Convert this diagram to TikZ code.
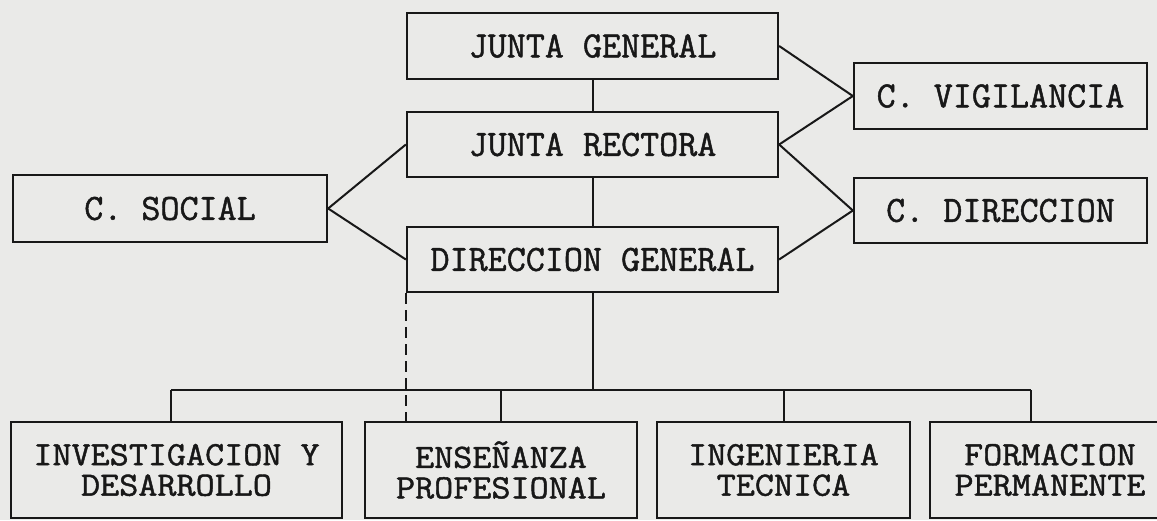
\documentclass[tikz,border=0pt]{standalone}
\usepackage{fontspec}
\usepackage{xcolor}
\usepackage{tikz}
\usetikzlibrary{positioning,calc}
\newfontfamily\maquina{Latin Modern Mono}[FakeBold=1.3]
\newfontfamily\maquinaancha{Latin Modern Mono}[FakeBold=1.3, FakeStretch=1.09]
\definecolor{Papel}{RGB}{234,234,232}
\definecolor{Tinta}{RGB}{24,24,24}
\tikzset{
    caja/.style={rectangle, draw=Tinta, line width=2.3pt, inner sep=0pt, text=Tinta, align=center, font=\maquina\fontsize{37}{31}\selectfont},
    enlace/.style={draw=Tinta, line width=2pt}
}

\begin{document}
\begin{tikzpicture}[x=1pt, y=-1pt,
					% Cajas de los organos de gobierno
					cajaalta/.style={
						caja,
						minimum height=65pt
					},
					% Cajas de los departamentos (dos lineas)
					cajabaja/.style={
						caja,
						minimum height=96pt,
						font=\maquinaancha\fontsize{34}{30.5}\selectfont
					}
				]
					
					% --- FONDO ---
					\fill[Papel] (0,0) rectangle (1157,520);
					\useasboundingbox (0,0) rectangle (1157,520);
					
					% --- COLUMNA CENTRAL ---
					\node[cajaalta, minimum width=371pt, minimum height=66pt] (jg) at (592.5,46) {JUNTA GENERAL};
					\node[cajaalta, minimum width=371pt] (jr) at (592.5,144.5) {JUNTA RECTORA};
					\node[cajaalta, minimum width=371pt] (dg) at (592.5,259.5) {DIRECCION GENERAL};
					
					% --- CONSEJOS ---
					\node[cajaalta, minimum width=314pt, minimum height=67pt] (cs) at (170,208.5) {C. SOCIAL};
					\node[cajaalta, minimum width=293pt, minimum height=66pt] (cv) at (1000.5,96) {C. VIGILANCIA};
					\node[cajaalta, minimum width=293pt] (cd) at (1000.5,210.5) {C. DIRECCION};
					
					% --- DEPARTAMENTOS ---
					\node[cajabaja, minimum width=331pt] (inv) at (176.5,470) {INVESTIGACION Y\\DESARROLLO};
					\node[cajabaja, minimum width=272pt] (ens) at (501,470) {ENSEÑANZA\\PROFESIONAL};
					\node[cajabaja, minimum width=253pt] (ing) at (783.5,470) {INGENIERIA\\TECNICA};
					\node[cajabaja, minimum width=240pt] (for) at (1050,470) {FORMACION\\PERMANENTE};
					
					% --- LINEAS ---
					\draw[enlace] (jg) -- (jr);
					\draw[enlace] (jr) -- (dg);
					\draw[enlace] (jg.east) -- (cv.west);
					\draw[enlace] (jr.east) -- (cv.west);
					\draw[enlace] (jr.east) -- (cd.west);
					\draw[enlace] (dg.east) -- (cd.west);
					\draw[enlace] (cs.east) -- (jr.west);
					\draw[enlace] (cs.east) -- (dg.west);
					
					% Barra de los departamentos
					\coordinate (barraI) at (171,390);
					\coordinate (barraD) at (1031,390);
					\draw[enlace] (barraI) -- (barraD);
					\draw[enlace] (dg.south) -- (dg.south |- barraI);
					\draw[enlace] (barraI) -- (barraI |- inv.north);
					\draw[enlace] (ens.north) -- (ens.north |- barraI);
					\draw[enlace] (ing.north) -- (ing.north |- barraI);
					\draw[enlace] (barraD) -- (barraD |- for.north);
					
					% Dependencia punteada
					\draw[enlace, dash pattern=on 11pt off 6pt] (dg.south west) -- (dg.south west |- ens.north);
					
				\end{tikzpicture}
\end{document}
